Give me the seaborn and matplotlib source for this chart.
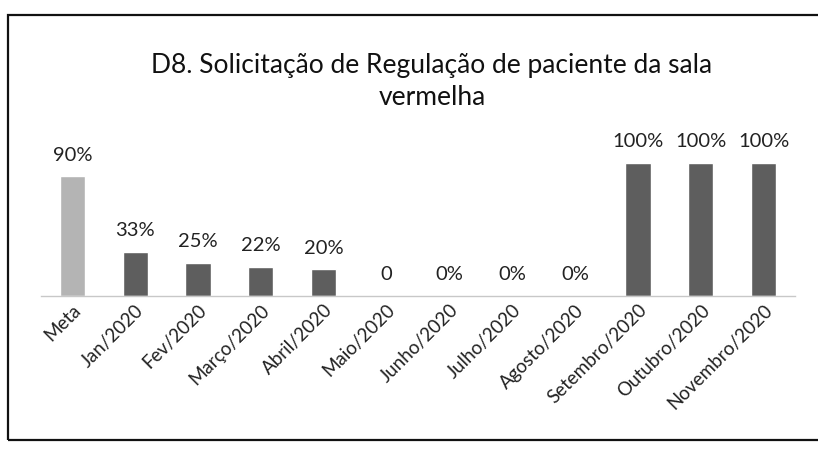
import matplotlib
matplotlib.use("Agg")
import matplotlib.pyplot as plt
import seaborn as sns
import pandas as pd
from matplotlib.patches import Rectangle

categories = ["Meta", "Jan/2020", "Fev/2020", "Março/2020", "Abril/2020", "Maio/2020",
              "Junho/2020", "Julho/2020", "Agosto/2020", "Setembro/2020",
              "Outubro/2020", "Novembro/2020"]
values = [0.90, 0.33, 0.25, 0.22, 0.20, 0.0, 0.0, 0.0, 0.0, 1.00, 1.00, 1.00]
labels = ["90%", "33%", "25%", "22%", "20%", "0", "0%", "0%", "0%", "100%", "100%", "100%"]
title = "D8. Solicitação de Regulação de paciente da sala\nvermelha"

sns.set_theme(style="white")
plt.rcParams['font.family'] = ['Lato', 'DejaVu Sans']

df = pd.DataFrame({"cat": categories, "val": values})
colors = ["#b4b4b4"] + ["#5e5e5e"] * (len(categories) - 1)

fig = plt.figure(figsize=(8.18, 4.51), dpi=100)
ax = fig.add_axes([0.050, 0.344, 0.922, 0.339])
sns.barplot(data=df, x="cat", y="val", hue="cat", palette=colors, legend=False,
            width=0.4, ax=ax, saturation=1)

ax.set_ylim(0, 1.15)
ax.set_xlim(-0.5, len(categories) - 0.5)
ax.set_xlabel("")
ax.set_ylabel("")
ax.set_yticks([])
for s in ["top", "left", "right"]:
    ax.spines[s].set_visible(False)
ax.spines["bottom"].set_color("#c8c8c8")
ax.spines["bottom"].set_linewidth(1.0)
ax.spines["bottom"].set_linestyle((0, (3, 1)))
ax.tick_params(axis="x", length=0, pad=4)
ax.set_xticks(range(len(categories)))
ax.set_xticklabels(categories, rotation=45, ha="right", rotation_mode="anchor",
                   fontsize=13.5, color="#222222")

for i, (v, lab) in enumerate(zip(values, labels)):
    ax.annotate(lab, (i, v), xytext=(0, 9), textcoords="offset points",
                ha="center", va="bottom", fontsize=14.5, color="#222222",
                annotation_clip=False)

fig.text(0.528, 0.82, title, ha="center", va="center", fontsize=19,
         color="#111111", linespacing=1.35)

fig.patches.append(Rectangle((8 / 818, 1 - 440 / 451), 1.2, (440 - 15) / 451,
                             transform=fig.transFigure, fill=False,
                             edgecolor="#111111", linewidth=1.6))

fig.savefig("out.png", dpi=100, facecolor="white")
